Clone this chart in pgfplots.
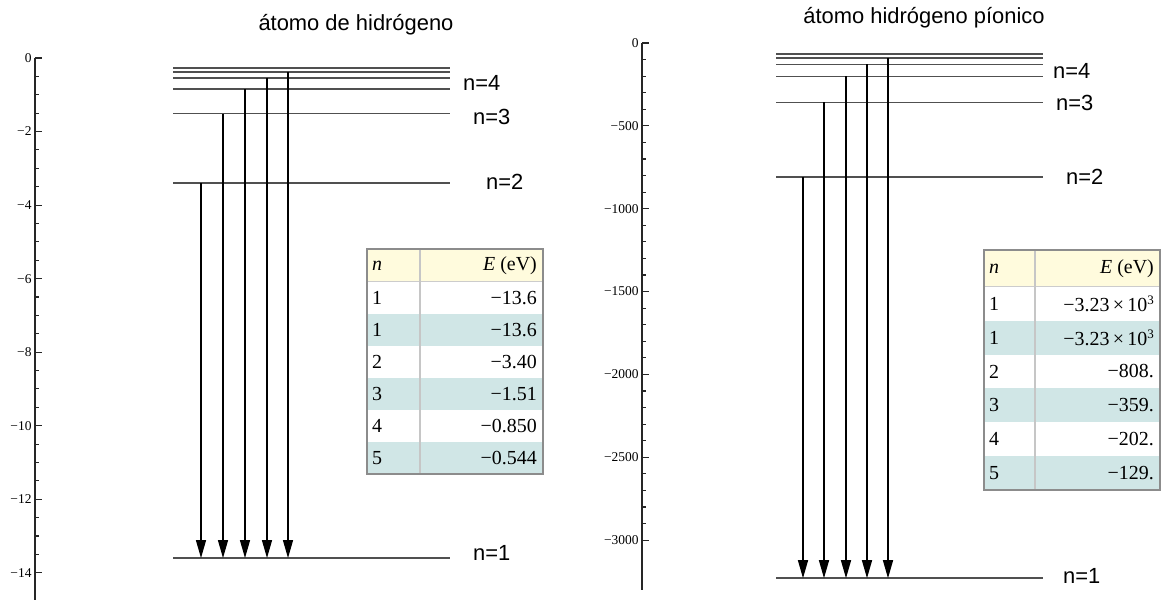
\documentclass[border=0pt]{standalone}
\usepackage{fontspec}
\setmainfont{Liberation Sans}
\newfontfamily\tfont{Liberation Serif}
\usepackage{pgfplots}
\pgfplotsset{compat=1.18}
\usetikzlibrary{arrows.meta}

\definecolor{lvl}{HTML}{505050}
\definecolor{hdr}{HTML}{FFFBDD}
\definecolor{alt}{HTML}{D0E6E6}
\definecolor{brd}{HTML}{8C8C8C}

\pgfplotsset{
  diag/.style={
    scale only axis, anchor=south west, clip=false,
    axis x line=none, axis y line*=left, ytick pos=left,
    tick align=inside, major tick length=7bp, minor tick length=4bp,
    axis line style={black!85, line width=1.3bp},
    every tick/.style={black!85, line width=1.1bp},
    yticklabel style={font=\tfont\fontsize{13.5}{13.5}\selectfont, text=black},
  },
  level/.style={lvl, line width=1.7bp, mark=none},
  jump/.style={black, line width=1.3bp, mark=none, -{Triangle[length=18bp,width=10bp]}},
}
\newcommand{\lab}{\fontsize{22}{22}\selectfont}
\newcommand{\tab}{\tfont\fontsize{20}{20}\selectfont}

\begin{document}
\begin{tikzpicture}
\path[use as bounding box] (0,0) rectangle (1163bp,602bp);

% hidrogeno
\begin{axis}[diag, at={(35bp,2bp)}, width=525bp, height=542bp,
  xmin=35, xmax=560, ymin=-14.74, ymax=0,
  ytick={-14,-12,-10,-8,-6,-4,-2,0}, minor y tick num=3,
  yticklabels={−14,−12,−10,−8,−6,−4,−2,0}]
  \addplot[level] coordinates {(173,-13.6) (450,-13.6)};
  \addplot[level] coordinates {(173,-3.40) (450,-3.40)};
  \addplot[level] coordinates {(173,-1.511) (450,-1.511)};
  \addplot[level] coordinates {(173,-0.850) (450,-0.850)};
  \addplot[level] coordinates {(173,-0.544) (450,-0.544)};
  \addplot[level] coordinates {(173,-0.378) (450,-0.378)};
  \addplot[level] coordinates {(173,-0.278) (450,-0.278)};
  \addplot[jump] coordinates {(201,-3.40) (201,-13.6)};
  \addplot[jump] coordinates {(223,-1.511) (223,-13.6)};
  \addplot[jump] coordinates {(245,-0.850) (245,-13.6)};
  \addplot[jump] coordinates {(267,-0.544) (267,-13.6)};
  \addplot[jump] coordinates {(288,-0.378) (288,-13.6)};
  \node[anchor=west, inner sep=0, font=\lab] at (axis cs:463,-0.68) {n=4};
  \node[anchor=west, inner sep=0, font=\lab] at (axis cs:473,-1.60) {n=3};
  \node[anchor=west, inner sep=0, font=\lab] at (axis cs:486,-3.37) {n=2};
  \node[anchor=west, inner sep=0, font=\lab] at (axis cs:473,-13.47) {n=1};
\end{axis}

% hidrogeno pionico
\begin{axis}[diag, at={(642bp,12bp)}, width=518bp, height=547bp,
  xmin=642, xmax=1160, ymin=-3301, ymax=0,
  ytick={-3000,-2500,-2000,-1500,-1000,-500,0}, minor y tick num=4,
  yticklabels={−3000,−2500,−2000,−1500,−1000,−500,0}]
  \addplot[level] coordinates {(776,-3230) (1043,-3230)};
  \addplot[level] coordinates {(776,-807.5) (1043,-807.5)};
  \addplot[level] coordinates {(776,-358.9) (1043,-358.9)};
  \addplot[level] coordinates {(776,-201.9) (1043,-201.9)};
  \addplot[level] coordinates {(776,-129.2) (1043,-129.2)};
  \addplot[level] coordinates {(776,-89.7) (1043,-89.7)};
  \addplot[level] coordinates {(776,-65.9) (1043,-65.9)};
  \addplot[jump] coordinates {(803,-807.5) (803,-3230)};
  \addplot[jump] coordinates {(824,-358.9) (824,-3230)};
  \addplot[jump] coordinates {(846,-201.9) (846,-3230)};
  \addplot[jump] coordinates {(867,-129.2) (867,-3230)};
  \addplot[jump] coordinates {(888,-89.7) (888,-3230)};
  \node[anchor=west, inner sep=0, font=\lab] at (axis cs:1053,-169) {n=4};
  \node[anchor=west, inner sep=0, font=\lab] at (axis cs:1056,-362) {n=3};
  \node[anchor=west, inner sep=0, font=\lab] at (axis cs:1066,-809) {n=2};
  \node[anchor=west, inner sep=0, font=\lab] at (axis cs:1063,-3217) {n=1};
\end{axis}

% titles and tables, in pixel units from the top left
\begin{scope}[x=1bp, y=-1bp, shift={(0,602bp)}]
  \node[font=\lab] at (356,25) {átomo de hidrógeno};
  \node[font=\lab] at (924,18) {átomo hidrógeno píonico};

  % left table
  \fill[hdr] (367,249) rectangle (543,282);
  \fill[alt] (367,314) rectangle (543,346);
  \fill[alt] (367,378) rectangle (543,410);
  \fill[alt] (367,442) rectangle (543,474);
  \draw[gray!40, line width=1bp] (367,282) -- (543,282);
  \draw[gray!45, line width=1.2bp] (420,249) -- (420,474);
  \draw[brd, line width=1.5bp] (367,249) rectangle (543,474);
  \begin{scope}[every node/.style={font=\tab, inner sep=0}]
    \node[anchor=west] at (372,265.5) {\itshape n};
    \node[anchor=east] at (537,265.5) {\itshape E\/\upshape{} (eV)};
    \node[anchor=west] at (372,298) {1};
    \node[anchor=west] at (372,330) {1};
    \node[anchor=west] at (372,362) {2};
    \node[anchor=west] at (372,394) {3};
    \node[anchor=west] at (372,426) {4};
    \node[anchor=west] at (372,458) {5};
    \node[anchor=east] at (537,298) {−13.6};
    \node[anchor=east] at (537,330) {−13.6};
    \node[anchor=east] at (537,362) {−3.40};
    \node[anchor=east] at (537,394) {−1.51};
    \node[anchor=east] at (537,426) {−0.850};
    \node[anchor=east] at (537,458) {−0.544};
  \end{scope}

  % right table
  \fill[hdr] (984,250) rectangle (1160,287);
  \fill[alt] (984,320.8) rectangle (1160,354.6);
  \fill[alt] (984,388.4) rectangle (1160,422.2);
  \fill[alt] (984,456) rectangle (1160,489.8);
  \draw[gray!40, line width=1bp] (984,287) -- (1160,287);
  \draw[gray!45, line width=1.2bp] (1035,250) -- (1035,489.8);
  \draw[brd, line width=1.5bp] (984,250) rectangle (1160,489.8);
  \begin{scope}[every node/.style={font=\tab, inner sep=0}]
    \node[anchor=west] at (989,268.5) {\itshape n};
    \node[anchor=east] at (1154,268.5) {\itshape E\/\upshape{} (eV)};
    \node[anchor=west] at (989,304) {1};
    \node[anchor=west] at (989,337.7) {1};
    \node[anchor=west] at (989,371.5) {2};
    \node[anchor=west] at (989,405.3) {3};
    \node[anchor=west] at (989,439.1) {4};
    \node[anchor=west] at (989,472.9) {5};
    \node[anchor=east] at (1154,304) {−3.23\,×\,10\raisebox{0.75ex}{\fontsize{13}{13}\selectfont 3}};
    \node[anchor=east] at (1154,337.7) {−3.23\,×\,10\raisebox{0.75ex}{\fontsize{13}{13}\selectfont 3}};
    \node[anchor=east] at (1154,371.5) {−808.};
    \node[anchor=east] at (1154,405.3) {−359.};
    \node[anchor=east] at (1154,439.1) {−202.};
    \node[anchor=east] at (1154,472.9) {−129.};
  \end{scope}
\end{scope}
\end{tikzpicture}
\end{document}
